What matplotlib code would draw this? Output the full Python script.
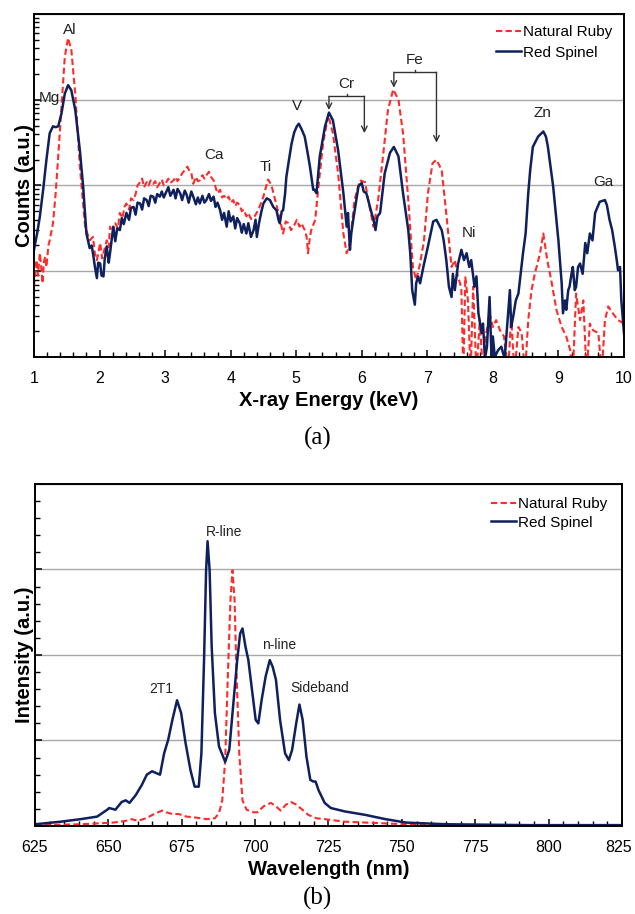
import numpy as np
import matplotlib
matplotlib.use("Agg")
import matplotlib.pyplot as plt
from matplotlib.ticker import MultipleLocator, NullFormatter
from matplotlib.transforms import ScaledTranslation

plt.rcParams['font.family'] = ["Liberation Sans", "DejaVu Sans"]

RUBY_COLOR = "#ff2a2a"
SPINEL_COLOR = "#0f205e"
GRID_COLOR = "#a8a8a8"

# ---- (a) EDXRF spectra, counts read on a log scale (log10 of counts) ----
spinel_kev = [1.00, 1.05, 1.09, 1.14, 1.19, 1.24, 1.29, 1.33, 1.37, 1.42, 1.47, 1.52, 1.57, 1.63, 1.70,
              1.75, 1.80, 1.85, 1.88, 1.90, 1.93, 1.96, 1.98, 2.01, 2.03, 2.06, 2.08, 2.11, 2.14, 2.16,
              2.19, 2.21, 2.24, 2.27, 2.31, 2.34, 2.37, 2.41, 2.45, 2.48, 2.52, 2.55, 2.58, 2.62, 2.65,
              2.68, 2.72, 2.75, 2.78, 2.82, 2.85, 2.88, 2.92, 2.95, 2.98, 3.02, 3.05, 3.08, 3.13, 3.16,
              3.19, 3.23, 3.26, 3.30, 3.33, 3.36, 3.40, 3.43, 3.47, 3.50, 3.53, 3.57, 3.60, 3.63, 3.67,
              3.70, 3.74, 3.77, 3.80, 3.84, 3.87, 3.90, 3.94, 3.97, 4.00, 4.04, 4.07, 4.10, 4.14, 4.17,
              4.20, 4.24, 4.27, 4.31, 4.35, 4.38, 4.40, 4.43, 4.47, 4.50, 4.55, 4.60, 4.65, 4.70, 4.73,
              4.75, 4.78, 4.80, 4.83, 4.85, 4.89, 4.93, 4.97, 5.01, 5.04, 5.08, 5.13, 5.17, 5.21, 5.26,
              5.28, 5.31, 5.36, 5.44, 5.50, 5.56, 5.64, 5.72, 5.77, 5.79, 5.82, 5.84, 5.87, 5.95, 6.00,
              6.03, 6.07, 6.15, 6.18, 6.21, 6.24, 6.28, 6.35, 6.43, 6.49, 6.56, 6.63, 6.71, 6.74, 6.77,
              6.81, 6.83, 6.86, 6.89, 6.94, 7.01, 7.09, 7.14, 7.22, 7.25, 7.29, 7.33, 7.37, 7.39, 7.42,
              7.47, 7.52, 7.56, 7.60, 7.64, 7.67, 7.72, 7.75, 7.78, 7.83, 7.85, 7.88, 7.91, 7.95, 7.98,
              8.00, 8.03, 8.08, 8.13, 8.18, 8.23, 8.26, 8.28, 8.31, 8.35, 8.39, 8.42, 8.46, 8.50, 8.54,
              8.57, 8.61, 8.69, 8.77, 8.81, 8.84, 8.92, 9.00, 9.05, 9.07, 9.10, 9.12, 9.15, 9.17, 9.20,
              9.22, 9.25, 9.27, 9.30, 9.33, 9.37, 9.41, 9.44, 9.48, 9.52, 9.56, 9.63, 9.71, 9.74, 9.78,
              9.82, 9.86, 9.89, 9.91, 9.94, 9.96, 10.00]
spinel_log = [1.25, 1.45, 1.64, 1.95, 2.30, 2.61, 2.69, 2.68, 2.69, 2.84, 3.07, 3.17, 3.11, 2.88, 2.41,
              1.99, 1.44, 1.27, 1.30, 1.21, 1.05, 0.92, 1.10, 1.09, 0.95, 0.94, 1.15, 1.29, 1.10, 1.21,
              1.40, 1.52, 1.35, 1.50, 1.48, 1.62, 1.55, 1.68, 1.60, 1.74, 1.75, 1.66, 1.80, 1.79, 1.72,
              1.85, 1.83, 1.76, 1.88, 1.87, 1.80, 1.90, 1.87, 1.93, 1.86, 1.93, 1.98, 1.88, 1.95, 1.85,
              1.96, 1.91, 1.83, 1.94, 1.89, 1.80, 1.93, 1.87, 1.78, 1.86, 1.79, 1.88, 1.80, 1.83, 1.90,
              1.82, 1.87, 1.75, 1.80, 1.71, 1.60, 1.68, 1.52, 1.70, 1.58, 1.64, 1.50, 1.62, 1.56, 1.45,
              1.55, 1.44, 1.56, 1.40, 1.48, 1.60, 1.40, 1.55, 1.70, 1.79, 1.85, 1.83, 1.75, 1.71, 1.60,
              1.56, 1.70, 1.71, 1.90, 2.10, 2.30, 2.49, 2.62, 2.69, 2.72, 2.66, 2.57, 2.40, 2.22, 1.95,
              1.95, 1.91, 2.34, 2.69, 2.85, 2.76, 2.41, 1.91, 1.52, 1.68, 1.25, 1.44, 1.60, 1.99, 2.03,
              1.93, 1.91, 1.68, 1.60, 1.48, 1.64, 1.68, 2.14, 2.38, 2.45, 2.34, 1.91, 1.48, 1.21, 0.78,
              0.61, 0.86, 0.94, 0.86, 1.05, 1.29, 1.58, 1.60, 1.48, 1.36, 1.13, 0.82, 0.70, 0.97, 0.78,
              1.09, 1.25, 1.13, 1.21, 1.05, 1.13, 0.82, 0.94, 0.51, 0.28, 0.39, -0.02, 0.12, 0.70, -0.02,
              0.24, 0.00, 0.08, 0.12, -0.02, 0.47, 0.78, 0.35, 0.47, 0.66, 0.74, 0.94, 1.21, 1.44, 1.91,
              2.18, 2.45, 2.57, 2.63, 2.57, 2.45, 1.99, 1.36, 0.86, 0.51, 0.66, 0.55, 0.78, 0.82, 0.97,
              1.05, 0.78, 0.82, 1.05, 1.09, 0.97, 1.33, 1.21, 1.44, 1.36, 1.68, 1.81, 1.83, 1.77, 1.60,
              1.48, 1.29, 1.13, 1.01, 1.05, 0.66, 0.28]

ruby_kev = [1.00, 1.02, 1.04, 1.06, 1.09, 1.11, 1.13, 1.15, 1.17, 1.19, 1.22, 1.24, 1.29, 1.33, 1.37,
            1.42, 1.47, 1.52, 1.57, 1.63, 1.70, 1.78, 1.85, 1.90, 1.93, 1.96, 2.01, 2.04, 2.06, 2.11,
            2.14, 2.16, 2.20, 2.24, 2.28, 2.31, 2.35, 2.38, 2.41, 2.45, 2.48, 2.52, 2.55, 2.58, 2.62,
            2.65, 2.68, 2.72, 2.75, 2.78, 2.82, 2.85, 2.88, 2.92, 2.95, 2.98, 3.02, 3.05, 3.08, 3.13,
            3.16, 3.19, 3.23, 3.26, 3.30, 3.34, 3.37, 3.40, 3.43, 3.47, 3.50, 3.53, 3.57, 3.60, 3.63,
            3.67, 3.70, 3.74, 3.77, 3.80, 3.84, 3.87, 3.90, 3.94, 3.97, 4.00, 4.04, 4.07, 4.10, 4.14,
            4.17, 4.20, 4.24, 4.27, 4.31, 4.35, 4.42, 4.50, 4.57, 4.62, 4.68, 4.73, 4.80, 4.84, 4.88,
            4.92, 4.96, 5.01, 5.05, 5.08, 5.13, 5.16, 5.18, 5.21, 5.23, 5.29, 5.34, 5.41, 5.49, 5.56,
            5.64, 5.72, 5.77, 5.82, 5.89, 5.97, 6.05, 6.12, 6.18, 6.25, 6.33, 6.40, 6.48, 6.56, 6.63,
            6.71, 6.78, 6.83, 6.89, 6.95, 7.01, 7.08, 7.14, 7.22, 7.29, 7.37, 7.42, 7.47, 7.50, 7.52,
            7.55, 7.58, 7.62, 7.66, 7.70, 7.75, 7.80, 7.85, 7.90, 7.95, 8.00, 8.05, 8.11, 8.17, 8.23,
            8.28, 8.33, 8.39, 8.44, 8.49, 8.54, 8.59, 8.64, 8.72, 8.77, 8.83, 8.89, 8.97, 9.05, 9.12,
            9.18, 9.22, 9.27, 9.33, 9.38, 9.43, 9.48, 9.53, 9.61, 9.66, 9.71, 9.76, 9.83, 9.91, 10.00]
ruby_log = [0.82, 1.00, 1.13, 0.95, 1.21, 1.05, 0.86, 1.10, 1.17, 1.05, 1.30, 1.36, 1.56, 1.90, 2.34,
            2.92, 3.50, 3.72, 3.58, 3.07, 2.22, 1.52, 1.36, 1.40, 1.20, 1.13, 1.33, 1.15, 1.21, 1.36,
            1.28, 1.52, 1.45, 1.56, 1.50, 1.68, 1.62, 1.75, 1.79, 1.72, 1.85, 1.83, 1.90, 2.00, 2.04,
            2.08, 1.98, 2.04, 2.00, 2.06, 2.02, 2.05, 1.98, 2.03, 2.07, 2.00, 2.04, 2.08, 2.03, 2.06,
            2.10, 2.05, 2.10, 2.14, 2.18, 2.22, 2.17, 2.15, 2.02, 2.10, 2.05, 2.06, 2.12, 2.08, 2.12,
            2.16, 2.10, 2.06, 1.98, 1.91, 1.95, 1.86, 1.88, 1.84, 1.87, 1.80, 1.83, 1.76, 1.80, 1.77,
            1.70, 1.72, 1.64, 1.68, 1.61, 1.62, 1.71, 1.87, 2.07, 2.01, 1.83, 1.68, 1.44, 1.58, 1.56,
            1.48, 1.52, 1.60, 1.52, 1.56, 1.48, 1.40, 1.21, 1.40, 1.48, 1.60, 1.99, 2.49, 2.82, 2.61,
            2.14, 1.44, 1.21, 1.33, 1.83, 2.06, 2.04, 1.75, 1.52, 1.83, 2.38, 2.88, 3.12, 3.00, 2.61,
            1.83, 1.05, 0.90, 1.09, 1.36, 1.91, 2.26, 2.30, 2.18, 1.67, 1.05, 1.13, 0.93, 0.86, 0.78,
            -0.20, 0.93, 0.66, -0.20, 0.82, -0.20, 0.43, -0.20, 0.28, 0.51, 0.35, 0.43, 0.31, 0.24, -0.20,
            0.47, -0.20, 0.35, 0.28, -0.20, 0.43, 0.78, 0.97, 1.21, 1.44, 1.13, 0.90, 0.55, 0.35, 0.24,
            0.08, -0.20, 0.74, 0.43, 0.66, -0.20, 0.39, 0.31, 0.28, -0.20, 0.43, 0.59, 0.51, 0.43, 0.39]

# element labels for panel (a): (text, keV, log10 counts)
xrf_labels = [("Al", 1.55, 3.81), ("Mg", 1.24, 3.02), ("Ca", 3.75, 2.36), ("Ti", 4.54, 2.22),
              ("V", 5.01, 2.93), ("Cr", 5.76, 3.18), ("Fe", 6.80, 3.46), ("Ni", 7.64, 1.45),
              ("Zn", 8.75, 2.85), ("Ga", 9.68, 2.04)]
# bracket arrows: (left keV, right keV, bar level, left tip, right tip)
xrf_brackets = [(5.50, 6.04, 3.04, 2.88, 2.61),
                (6.49, 7.14, 3.32, 3.14, 2.50)]

# ---- (b) PL spectra ----
spinel_nm = [625.0, 633.7, 640.6, 646.2, 649.6, 650.3, 652.4, 654.5, 655.9, 657.2, 659.3, 661.4, 663.1,
             664.9, 666.2, 667.6, 669.0, 670.4, 671.8, 673.4, 674.8, 676.3, 678.0, 679.4, 680.8, 681.7,
             682.6, 683.3, 683.8, 684.5, 685.2, 686.3, 687.7, 689.8, 691.2, 692.5, 693.9, 694.9, 695.7,
             696.7, 697.7, 698.8, 700.2, 701.1, 702.2, 703.6, 705.0, 706.0, 707.1, 708.5, 710.2, 711.5,
             712.6, 714.0, 715.1, 716.2, 717.5, 718.8, 719.8, 720.6, 721.6, 723.7, 725.8, 730.6, 737.5,
             744.4, 751.4, 765.2, 792.9, 825.0]
spinel_int = [0.02, 0.05, 0.08, 0.11, 0.19, 0.21, 0.19, 0.28, 0.30, 0.27, 0.36, 0.48, 0.60,
              0.64, 0.62, 0.60, 0.85, 1.01, 1.24, 1.47, 1.32, 0.97, 0.65, 0.46, 0.46, 0.85,
              1.94, 2.99, 3.33, 2.99, 2.10, 1.32, 0.93, 0.75, 0.89, 1.40, 1.94, 2.25, 2.31,
              2.10, 1.94, 1.63, 1.24, 1.20, 1.47, 1.75, 1.94, 1.86, 1.71, 1.24, 0.85, 0.77,
              0.89, 1.20, 1.42, 1.24, 0.81, 0.54, 0.52, 0.52, 0.42, 0.27, 0.21, 0.17, 0.13,
              0.08, 0.04, 0.02, 0.01, 0.01]

ruby_nm = [625.0, 640.6, 651.7, 655.9, 657.9, 660.0, 662.8, 665.6, 668.3, 669.7, 671.8, 673.9, 676.6,
           679.4, 683.5, 686.3, 687.7, 688.8, 689.8, 690.7, 691.6, 692.3, 693.0, 693.6, 694.6, 695.7,
           697.1, 699.5, 700.8, 702.9, 705.4, 707.1, 708.7, 710.5, 712.3, 714.0, 716.1, 718.1, 720.9,
           723.7, 730.6, 737.5, 751.4, 779.0, 825.0]
ruby_int = [0.01, 0.02, 0.04, 0.06, 0.08, 0.06, 0.09, 0.14, 0.18, 0.16, 0.14, 0.14, 0.11,
            0.10, 0.08, 0.09, 0.15, 0.30, 0.77, 1.75, 2.64, 2.99, 2.64, 1.86, 0.85, 0.30,
            0.19, 0.16, 0.16, 0.23, 0.27, 0.23, 0.18, 0.25, 0.28, 0.25, 0.19, 0.13, 0.09,
            0.08, 0.05, 0.04, 0.02, 0.01, 0.01]

pl_labels = [("R-line", 689.5, 3.44), ("2T1", 668.0, 1.60), ("n-line", 708.2, 2.12),
             ("Sideband", 722.0, 1.61)]


def style_axes(ax):
    for side in ax.spines.values():
        side.set_linewidth(1.4)
        side.set_color("black")
    ax.tick_params(which="both", direction="in", top=False, right=False, labelsize=11.5, pad=10)
    ax.tick_params(which="major", length=5, width=1.1)
    ax.tick_params(which="minor", length=3.5, width=1.0)
    ax.yaxis.set_major_formatter(NullFormatter())
    ax.yaxis.set_minor_formatter(NullFormatter())
    ax.grid(axis="y", which="major", color=GRID_COLOR, lw=1.0)
    ax.set_axisbelow(True)


def nudge_xlabel(ax, fig, loc, dx_pts):
    # shift one tick label sideways so it stays inside the figure
    for tick in ax.xaxis.get_major_ticks():
        if abs(tick.get_loc() - loc) < 1e-6:
            tick.label1.set_transform(tick.label1.get_transform()
                                      + ScaledTranslation(dx_pts / 72, 0, fig.dpi_scale_trans))


fig = plt.figure(figsize=(6.35, 9.14), dpi=100)

## (a) X-ray fluorescence ##
ax1 = fig.add_axes([0.0535, 0.6094, 0.9291, 0.3753])
ax1.plot(ruby_kev, np.power(10.0, ruby_log), color=RUBY_COLOR, lw=1.5, ls=(0, (3, 1.6)),
         label="Natural Ruby")
ax1.plot(spinel_kev, np.power(10.0, spinel_log), color=SPINEL_COLOR, lw=1.8, label="Red Spinel")
ax1.set_yscale("log")
ax1.set_ylim(1, 1e4)
ax1.set_xlim(1, 10)
ax1.xaxis.set_major_locator(MultipleLocator(1))
ax1.xaxis.set_minor_locator(MultipleLocator(0.2))
style_axes(ax1)

for txt, x, y in xrf_labels:
    ax1.text(x, 10 ** y, txt, fontsize=11, ha="center", va="center", color="#222222")

for x0, x1, bar, tip0, tip1 in xrf_brackets:
    ax1.plot([x0, x1], [10 ** bar, 10 ** bar], color="#333333", lw=1.0)
    ax1.plot([(x0 + x1) / 2] * 2, [10 ** bar, 10 ** (bar + 0.03)], color="#333333", lw=1.0)
    for xx, tip in [(x0, tip0), (x1, tip1)]:
        ax1.annotate("", xy=(xx, 10 ** tip), xytext=(xx, 10 ** bar),
                     arrowprops=dict(arrowstyle="->", color="#333333", lw=1.0,
                                     shrinkA=0, shrinkB=0, mutation_scale=10))

ax1.set_xlabel("X-ray Energy (keV)", fontsize=14.5, fontweight="bold", labelpad=4)
ax1.set_ylabel("Counts (a.u.)", fontsize=14.5, fontweight="bold")
ax1.yaxis.set_label_coords(0.0, 0.5)
ax1.legend(loc="upper right", bbox_to_anchor=(0.98, 0.968), frameon=False, fontsize=11,
           handlelength=1.6, handletextpad=0.15, labelspacing=0.45, borderpad=0, borderaxespad=0)

fig.text(0.5, 0.52, "(a)", fontsize=18, ha="center", va="center",
         family=["Liberation Serif", "DejaVu Serif"])

## (b) Photoluminescence ##
ax2 = fig.add_axes([0.0551, 0.0963, 0.9244, 0.3742])
ax2.plot(ruby_nm, ruby_int, color=RUBY_COLOR, lw=1.5, ls=(0, (3, 1.6)), label="Natural Ruby")
ax2.plot(spinel_nm, spinel_int, color=SPINEL_COLOR, lw=1.8, label="Red Spinel")
ax2.set_xlim(625, 825)
ax2.set_ylim(0, 4)
ax2.xaxis.set_major_locator(MultipleLocator(25))
ax2.xaxis.set_minor_locator(MultipleLocator(5))
ax2.yaxis.set_major_locator(MultipleLocator(1))
ax2.yaxis.set_minor_locator(MultipleLocator(0.2))
style_axes(ax2)

for txt, x, y in pl_labels:
    ax2.text(x, y, txt, fontsize=10, ha="center", va="center", color="#222222")

ax2.set_xlabel("Wavelength (nm)", fontsize=14.5, fontweight="bold", labelpad=4)
ax2.set_ylabel("Intensity (a.u.)", fontsize=14.5, fontweight="bold")
ax2.yaxis.set_label_coords(-0.002, 0.5)
ax2.legend(loc="upper right", bbox_to_anchor=(0.975, 0.962), frameon=False, fontsize=11,
           handlelength=1.6, handletextpad=0.15, labelspacing=0.3, borderpad=0, borderaxespad=0)

fig.text(0.5, 0.0175, "(b)", fontsize=18, ha="center", va="center",
         family=["Liberation Serif", "DejaVu Serif"])

fig.canvas.draw()
nudge_xlabel(ax2, fig, 825, -2.5)

fig.savefig("out.png", dpi=100)
